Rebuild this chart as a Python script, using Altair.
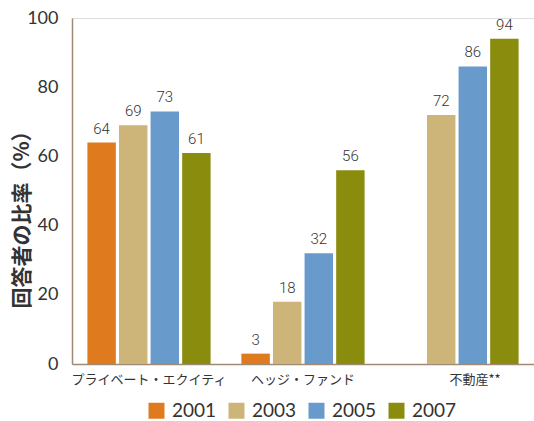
import altair as alt
import pandas as pd

categories = ["プライベート・エクイティ", "ヘッジ・ファンド", "不動産**"]
years = ["2001", "2003", "2005", "2007"]
pe_values = [64, 69, 73, 61]
hf_values = [3, 18, 32, 56]
re_years = ["2003", "2005", "2007"]
re_values = [72, 86, 94]
colors = ["#DF7A1E", "#CDB57A", "#689BCB", "#8A8C0E"]

rows = []
for y, v in zip(years, pe_values):
    rows.append({"category": categories[0], "year": y, "value": v})
for y, v in zip(years, hf_values):
    rows.append({"category": categories[1], "year": y, "value": v})
for y, v in zip(re_years, re_values):
    rows.append({"category": categories[2], "year": y, "value": v})
df = pd.DataFrame(rows)

FONT = "Noto Sans CJK JP"
NUMFONT = "Lato"
TXT = "#333333"
AXC = "#A08A73"

x = alt.X(
    "category:N",
    sort=categories,
    scale=alt.Scale(paddingInner=0.2, paddingOuter=0.1),
    axis=alt.Axis(
        title=None,
        labelAngle=0,
        ticks=False,
        domainColor=AXC,
        domainWidth=1.5,
        labelFontSize=13,
        labelColor=TXT,
        labelPadding=9,
        labelFont=FONT,
        labelOffset={"condition": {"test": "datum.value === '不動産**'", "value": 18}, "value": 0},
    ),
)
xo = alt.XOffset("year:N", sort=years, scale=alt.Scale(paddingInner=0.1))
y = alt.Y(
    "value:Q",
    scale=alt.Scale(domain=[0, 100], nice=False),
    axis=alt.Axis(
        title="回答者の比率（%）",
        values=[0, 20, 40, 60, 80, 100],
        grid=False,
        ticks=False,
        domainColor=AXC,
        domainWidth=1.5,
        labelFontSize=18,
        labelColor=TXT,
        labelFont=NUMFONT,
        labelPadding=14,
        titleFontSize=21,
        titleFont=FONT,
        titleColor=TXT,
        titleFontWeight="bold",
        titleX=-50,
        titleY=196,
        titleBaseline="middle",
    ),
)

bars = alt.Chart(df).mark_bar().encode(
    x=x,
    xOffset=xo,
    y=y,
    color=alt.Color(
        "year:N",
        sort=years,
        scale=alt.Scale(domain=years, range=colors),
        legend=alt.Legend(
            title=None,
            orient="none",
            legendX=75,
            legendY=383,
            direction="horizontal",
            symbolType="square",
            symbolSize=256,
            symbolStrokeWidth=0,
            labelFontSize=19,
            labelFont=NUMFONT,
            labelColor=TXT,
            labelOffset=6,
            columnPadding=10,
            symbolOffset=0,
        ),
    ),
)

labels = alt.Chart(df).mark_text(
    baseline="bottom", dy=-6, fontSize=15, font="Roboto", fontWeight=300, color=TXT
).encode(x=x, xOffset=xo, y=y, text="value:Q")

chart = (
    alt.layer(bars, labels)
    .properties(
        width=462,
        height=346,
        autosize=alt.AutoSizeParams(type="none"),
        padding={"left": 72, "top": 18, "right": 0, "bottom": 57},
    )
    .configure_view(stroke=None)
    .configure(background="white")
)

chart.save("out.html", embed_options={"renderer": "svg", "actions": False})
